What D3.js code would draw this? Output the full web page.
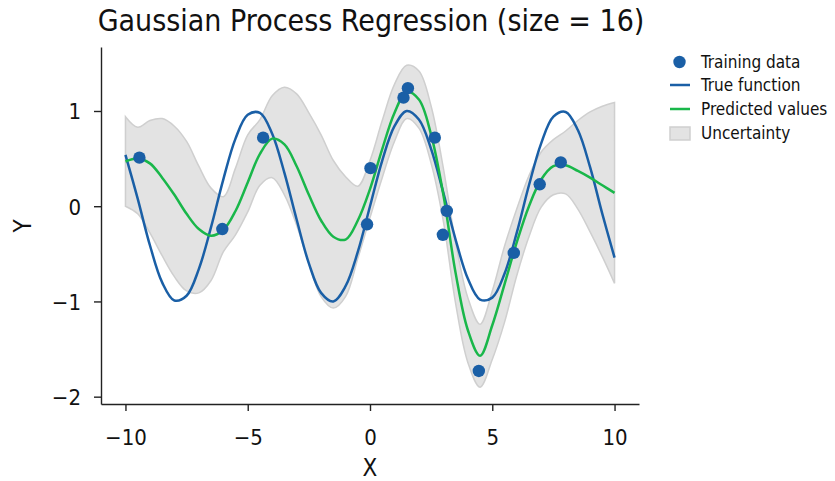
<!DOCTYPE html>
<meta charset="utf-8">
<script src="https://cdn.jsdelivr.net/npm/d3@7"></script>
<style>
  body { margin: 0; background: #fff; }
  text { font-family: "DejaVu Sans Condensed", "DejaVu Sans", sans-serif; font-stretch: condensed; fill: #111; }
</style>
<body>
<script>

// training samples (x, y)
var trainX = [-9.43, -6.04, -4.37, -0.12, 0.02, 1.37, 1.55, 2.65, 2.98, 3.14, 4.45, 5.88, 6.94, 7.80];
var trainY = [0.51, -0.24, 0.72, -0.19, 0.40, 1.14, 1.24, 0.72, -0.30, -0.05, -1.73, -0.49, 0.23, 0.46];

// grid the curves were read on
var gridX = [-10, -9.5, -9, -8.5, -8, -7.5, -7, -6.5, -6, -5.5, -5, -4.5, -4, -3.5, -3, -2.5, -2, -1.5, -1, -0.5,
             0, 0.5, 1, 1.5, 2, 2.5, 3, 3.5, 4, 4.5, 5, 5.5, 6, 6.5, 7, 7.5, 8, 8.5, 9, 9.5, 10];

var trueY = [0.54, 0.08, -0.41, -0.80, -0.99, -0.94, -0.66, -0.22, 0.28, 0.71, 0.96, 0.98, 0.76, 0.35, -0.14, -0.60, -0.91, -1.00, -0.84, -0.48,
             0.00, 0.48, 0.84, 1.00, 0.91, 0.60, 0.14, -0.35, -0.76, -0.98, -0.96, -0.71, -0.28, 0.22, 0.66, 0.94, 0.99, 0.80, 0.41, -0.08, -0.54];

var predY = [0.47, 0.50, 0.45, 0.30, 0.12, -0.08, -0.24, -0.31, -0.25, -0.05, 0.25, 0.55, 0.71, 0.65, 0.42, 0.12, -0.15, -0.32, -0.35, -0.15,
             0.18, 0.60, 0.98, 1.20, 1.12, 0.75, 0.12, -0.70, -1.30, -1.57, -1.25, -0.82, -0.38, 0.00, 0.28, 0.42, 0.43, 0.37, 0.30, 0.22, 0.14];

var upperY = [0.94, 0.83, 0.90, 0.92, 0.84, 0.68, 0.42, 0.19, 0.10, 0.40, 0.75, 0.91, 1.16, 1.25, 1.18, 0.98, 0.75, 0.48, 0.31, 0.21,
              0.48, 0.90, 1.28, 1.48, 1.42, 1.05, 0.40, -0.38, -0.96, -1.24, -0.89, -0.42, -0.03, 0.32, 0.57, 0.70, 0.79, 0.90, 0.99, 1.05, 1.09];

var lowerY = [0.00, -0.08, -0.28, -0.52, -0.74, -0.89, -0.91, -0.78, -0.48, -0.30, -0.06, 0.22, 0.30, 0.12, -0.20, -0.60, -0.95, -1.07, -0.95, -0.55,
              -0.12, 0.30, 0.68, 0.92, 0.82, 0.45, -0.16, -1.02, -1.64, -1.90, -1.61, -1.22, -0.73, -0.32, -0.01, 0.12, 0.13, -0.03, -0.27, -0.53, -0.81];

var xTicks = [-10, -5, 0, 5, 10];
var yTicks = [-2, -1, 0, 1];

var legendLabels = ["Training data", "True function", "Predicted values", "Uncertainty"];

var blue = "#1a5fa6",
    green = "#19b74a",
    bandFill = "#e3e3e3",
    bandEdge = "#cfcfcf";

var width = 835, height = 481;

var svg = d3.select("body").append("svg")
    .attr("width", width)
    .attr("height", height);

var x = d3.scaleLinear().domain([-11, 11]).range([101, 639]);
var y = d3.scaleLinear().domain([-2.077, 1.672]).range([404, 47]);

var fmt = function(d) { return d < 0 ? "\u2212" + Math.abs(d) : "" + d; };

var pts = gridX.map(function(d, i) {
  return { x: d, t: trueY[i], p: predY[i], lo: lowerY[i], hi: upperY[i] };
});

// uncertainty band
var area = d3.area()
    .x(function(d) { return x(d.x); })
    .y0(function(d) { return y(d.lo); })
    .y1(function(d) { return y(d.hi); })
    .curve(d3.curveCatmullRom);

svg.append("path")
    .datum(pts)
    .attr("d", area)
    .attr("fill", bandFill)
    .attr("stroke", bandEdge)
    .attr("stroke-width", 1.5);

var line = function(key) {
  return d3.line()
      .x(function(d) { return x(d.x); })
      .y(function(d) { return y(d[key]); })
      .curve(d3.curveCatmullRom);
};

svg.append("path")
    .datum(pts)
    .attr("d", line("t"))
    .attr("fill", "none")
    .attr("stroke", blue)
    .attr("stroke-width", 2.5);

svg.append("path")
    .datum(pts)
    .attr("d", line("p"))
    .attr("fill", "none")
    .attr("stroke", green)
    .attr("stroke-width", 2.5);

svg.selectAll("circle.train")
    .data(trainX)
  .enter().append("circle")
    .attr("class", "train")
    .attr("cx", function(d) { return x(d); })
    .attr("cy", function(d, i) { return y(trainY[i]); })
    .attr("r", 6.2)
    .attr("fill", blue);

// axes (left + bottom spines only)
var xAxis = svg.append("g")
    .attr("transform", "translate(0,404)")
    .call(d3.axisBottom(x).tickValues(xTicks).tickFormat(fmt).tickSize(7).tickSizeOuter(0));

var yAxis = svg.append("g")
    .attr("transform", "translate(101,0)")
    .call(d3.axisLeft(y).tickValues(yTicks).tickFormat(fmt).tickSize(7).tickSizeOuter(0));

[xAxis, yAxis].forEach(function(g) {
  g.select(".domain").attr("stroke", "#222").attr("stroke-width", 1.4);
  g.selectAll(".tick line").attr("stroke", "#222").attr("stroke-width", 1.4);
  g.selectAll(".tick text")
      .style("font-family", "DejaVu Sans Condensed, DejaVu Sans, sans-serif")
      .style("font-stretch", "condensed")
      .style("font-size", "22px")
      .attr("fill", "#111");
});
xAxis.selectAll(".tick text").attr("y", 41).attr("dy", 0);
yAxis.selectAll(".tick text").attr("x", -20).attr("dy", "0.36em");

svg.append("text")
    .attr("x", 370).attr("y", 476)
    .attr("text-anchor", "middle")
    .style("font-size", "24px")
    .text("X");

svg.append("text")
    .attr("transform", "translate(31,226) rotate(-90)")
    .attr("text-anchor", "middle")
    .style("font-size", "24px")
    .text("Y");

svg.append("text")
    .attr("x", 371).attr("y", 31)
    .attr("text-anchor", "middle")
    .style("font-size", "30px")
    .text("Gaussian Process Regression (size = 16)");

// legend
var legend = svg.append("g").attr("transform", "translate(670,0)");
var rowY = [62, 85, 109, 133];

legend.append("circle").attr("cx", 9.5).attr("cy", rowY[0]).attr("r", 6.2).attr("fill", blue);
legend.append("line").attr("x1", 0).attr("x2", 20).attr("y1", rowY[1]).attr("y2", rowY[1])
    .attr("stroke", blue).attr("stroke-width", 2.5);
legend.append("line").attr("x1", 0).attr("x2", 20).attr("y1", rowY[2]).attr("y2", rowY[2])
    .attr("stroke", green).attr("stroke-width", 2.5);
legend.append("rect").attr("x", 0).attr("y", rowY[3] - 6).attr("width", 20).attr("height", 13)
    .attr("fill", bandFill).attr("stroke", bandEdge).attr("stroke-width", 1.5);

legend.selectAll("text.lab")
    .data(legendLabels)
  .enter().append("text")
    .attr("class", "lab")
    .attr("x", 31)
    .attr("y", function(d, i) { return rowY[i] + 6; })
    .style("font-size", "17px")
    .text(function(d) { return d; });

</script>
</body>
